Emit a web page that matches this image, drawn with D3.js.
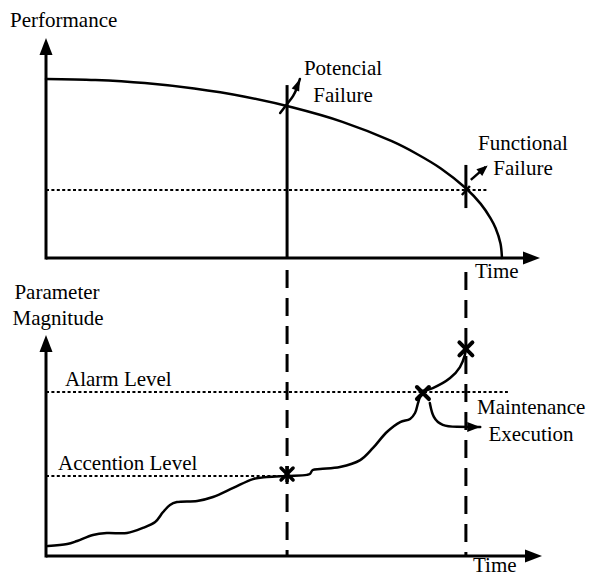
<!DOCTYPE html>
<html><head><meta charset="utf-8">
<script src="https://cdn.jsdelivr.net/npm/d3@7"></script>
<style>html,body{margin:0;padding:0;background:#fff}svg{display:block}</style>
</head><body>
<script>
// ---- data (time 0..100, magnitude 0..100) ----
const perfTime  = [0, 10, 20, 30, 40, 50, 60, 70, 75, 80, 85, 88, 90, 91, 92, 92.3];
const perfValue = [81.4, 80.9, 79.5, 77.0, 73.4, 68.4, 61.9, 53.1, 47.4, 40.6, 31.7, 24.6, 18.0, 13.6, 6.6, 0];

const paramTime  = [0.4, 4.3, 6.3, 9.5, 12.3, 16.4, 19.6, 22.1, 23.7, 25.1, 26.5, 30.6, 33.8, 37.9, 41.9, 44.7, 48.8, 52.8, 53.4, 54.0, 55.5, 59.5, 63.6, 66.2, 69.0, 71.7, 73.7, 74.7, 75.3, 75.7, 76.3];
const paramValue = [4.5, 5.4, 6.8, 9.5, 10.4, 10.4, 12.7, 15.4, 19.9, 23.1, 24.4, 24.9, 26.7, 30.8, 34.8, 35.7, 36.2, 36.7, 37.1, 38.9, 39.4, 40.3, 43.4, 48.9, 56.1, 60.6, 62.0, 64.7, 69.2, 71.9, 74.7];

const branchTime  = [76.3, 78.3, 81.8, 83.8, 84.8, 85.0];
const branchValue = [74.7, 76.0, 80.5, 85.5, 91.0, 93.7];

const maintTime  = [77.7, 78.3, 80.2, 82.8, 87.9];
const maintValue = [69.2, 62.4, 58.8, 58.4, 58.4];

const potArrowTime  = [47.4, 48.8, 50.0, 50.8, 51.4];
const potArrowValue = [65.9, 70.0, 73.6, 77.3, 81.4];

const funcArrowTime  = [86.0, 89.0];
const funcArrowValue = [35.5, 41.4];

const tPotential = 48.8, tFunctional = 85.0;
const functionalLevel = 30.9, alarmLevel = 74.2, accentionLevel = 36.2;
const alarmCrossTime = 76.3, finalCrossValue = 93.7;

// ---- layout ----
const W = 592, H = 577;
const FONT = "Liberation Serif";
const svg = d3.select("body").append("svg").attr("width", W).attr("height", H);

const x = d3.scaleLinear().domain([0, 100]).range([46, 540]);
const yT = d3.scaleLinear().domain([0, 100]).range([258, 38]);
const yB = d3.scaleLinear().domain([0, 100]).range([556, 335]);

function arrowHead(tip, from, len, wid) {
  const dx = tip[0] - from[0], dy = tip[1] - from[1];
  const d = Math.hypot(dx, dy), ux = dx / d, uy = dy / d;
  const bx = tip[0] - ux * len, by = tip[1] - uy * len;
  const px = -uy * wid / 2, py = ux * wid / 2;
  svg.append("path").attr("d", `M${tip[0]},${tip[1]}L${bx + px},${by + py}L${bx - px},${by - py}Z`).attr("fill", "#000");
}
function line(x1, y1, x2, y2, w, dash) {
  const l = svg.append("line").attr("x1", x1).attr("y1", y1).attr("x2", x2).attr("y2", y2)
    .attr("stroke", "#000").attr("stroke-width", w);
  if (dash) l.attr("stroke-dasharray", dash);
  return l;
}
function curve(ts, vs, ys, w, type) {
  const pts = ts.map((t, i) => [x(t), ys(vs[i])]);
  svg.append("path").attr("d", d3.line().curve(type || d3.curveCatmullRom)(pts))
    .attr("fill", "none").attr("stroke", "#000").attr("stroke-width", w).attr("stroke-linecap", "round");
  return pts;
}
function cross(cx, cy, s, w) {
  svg.append("path").attr("d", `M${cx - s},${cy - s}L${cx + s},${cy + s}M${cx - s},${cy + s}L${cx + s},${cy - s}`)
    .attr("stroke", "#000").attr("stroke-width", w).attr("stroke-linecap", "round").attr("fill", "none");
}
function label(t, px, py, anchor) {
  svg.append("text").attr("x", px).attr("y", py).attr("text-anchor", anchor || "start")
    .attr("font-family", FONT).attr("font-size", 21).attr("fill", "#000").text(t);
}

// ---- top panel ----
line(x(0), yT(0), x(100) - 14, yT(0), 3);
arrowHead([x(100), yT(0)], [x(0), yT(0)], 17, 13);
line(x(0), yT(0) + 1.5, x(0), yT(100) + 14, 3);
arrowHead([x(0), yT(100)], [x(0), yT(0)], 17, 13);

line(x(0), yT(functionalLevel), x(89.5), yT(functionalLevel), 2, "3,2.4");
curve(perfTime, perfValue, yT, 2.5);

// potential failure
line(x(tPotential), yT(78.6), x(tPotential), yT(0), 3);
const pa = curve(potArrowTime, potArrowValue, yT, 2.5);
arrowHead(pa[pa.length - 1], pa[pa.length - 3], 12, 8);

// functional failure
line(x(tFunctional), yT(42.3), x(tFunctional), yT(22.7), 3);
line(x(tFunctional) - 4, yT(functionalLevel) + 5, x(tFunctional) + 4, yT(functionalLevel) - 4, 2.5);
const fa = [[x(funcArrowTime[0]), yT(funcArrowValue[0])], [x(funcArrowTime[1]), yT(funcArrowValue[1])]];
line(fa[0][0], fa[0][1], fa[1][0], fa[1][1], 2.5);
arrowHead([fa[1][0] + 2, fa[1][1] - 1.5], fa[0], 11, 9);

// vertical dashed projections
line(x(tPotential), yT(0) + 12, x(tPotential), yB(0), 3, "18,10");
line(x(tFunctional), yT(0) + 14, x(tFunctional), yB(0), 3, "18,10");

// ---- bottom panel ----
line(x(0), yB(0), x(100) - 12, yB(0), 3);
arrowHead([x(100) + 2, yB(0)], [x(0), yB(0)], 17, 13);
line(x(0), yB(0) + 1.5, x(0), yB(100) + 14, 3);
arrowHead([x(0), yB(100)], [x(0), yB(0)], 17, 13);

line(x(0), yB(alarmLevel), x(93.5), yB(alarmLevel), 2, "3,2.4");
line(x(0), yB(accentionLevel), x(tPotential), yB(accentionLevel), 2, "3,2.4");

curve(paramTime, paramValue, yB, 2.5);
curve(branchTime, branchValue, yB, 2.5);
const ma = curve(maintTime, maintValue, yB, 2.5, d3.curveBasis);
arrowHead(ma[ma.length - 1], ma[ma.length - 2], 13, 10);

// markers
cross(x(tPotential), yB(accentionLevel) - 2, 6, 3.5);
line(x(tPotential), yB(accentionLevel) - 10, x(tPotential), yB(accentionLevel) + 6, 3.5);
cross(x(alarmCrossTime), yB(alarmLevel) + 1, 6, 4);
cross(x(tFunctional), yB(finalCrossValue), 6.5, 4);

// ---- text ----
label("Performance", 10, 27);
label("Potencial", 343, 75, "middle");
label("Failure", 343, 102, "middle");
label("Functional", 523, 150, "middle");
label("Failure", 523, 175, "middle");
label("Time", 475, 278);
label("Parameter", 57, 299, "middle");
label("Magnitude", 58, 325, "middle");
label("Alarm Level", 65, 386);
label("Accention Level", 58, 470);
label("Maintenance", 477, 414);
label("Execution", 531, 441, "middle");
label("Time", 473, 572);
</script>
</body></html>
